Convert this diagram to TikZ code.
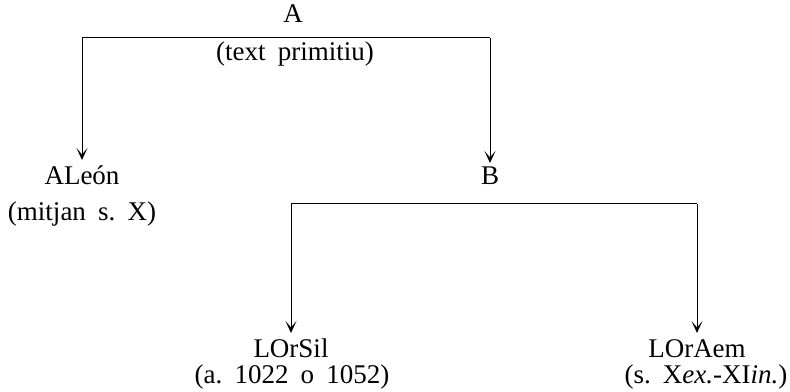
\documentclass[tikz,border=0pt]{standalone}
\usepackage{fontspec}
\setmainfont{Liberation Serif}
\usetikzlibrary{arrows.meta}
\newcommand\wsp{\hspace{0.45em}}
\tikzset{
  lbl/.style={inner sep=0pt, anchor=base, font=\fontsize{27}{32}\selectfont},
  conn/.style={line width=1pt},
  arr/.style={conn, -{Stealth[length=12pt,width=11pt,inset=6.5pt]}}
}
\begin{document}
\begin{tikzpicture}[x=1pt,y=1pt]
\useasboundingbox (0,0) rectangle (790,391);
% labels
\node[lbl] (A) at (293,368) {A};
\node[lbl] (prim) at (295,330) {(text\wsp primitiu)};
\node[lbl] (aleon) at (82,206) {ALeón};
\node[lbl] (aleond) at (82,170) {(mitjan\wsp s.\wsp X)};
\node[lbl] (B) at (490,206) {B};
\node[lbl] (lorsil) at (291,34) {LOrSil};
\node[lbl] (lorsild) at (292,7) {(a.\wsp 1022\wsp o\wsp 1052)};
\node[lbl] (loraem) at (697,34) {LOrAem};
\node[lbl] (loraemd) at (706,7) {(s.\wsp X\textit{ex.}-XI\textit{in.})};
% first fork
\coordinate (tl) at (82,353);
\coordinate (tr) at (490,353);
\coordinate (tlend) at (82,231);
\coordinate (trend) at (490,228);
\draw[conn] (tl) -- (tr);
\draw[arr] (tl) -- (tlend);
\draw[arr] (tr) -- (trend);
% second fork
\coordinate (bl) at (291,187);
\coordinate (br) at (697,187);
\coordinate (blend) at (291,58);
\coordinate (brend) at (697,58);
\draw[conn] (bl) -- (br);
\draw[arr] (bl) -- (blend);
\draw[arr] (br) -- (brend);
\end{tikzpicture}
\end{document}
